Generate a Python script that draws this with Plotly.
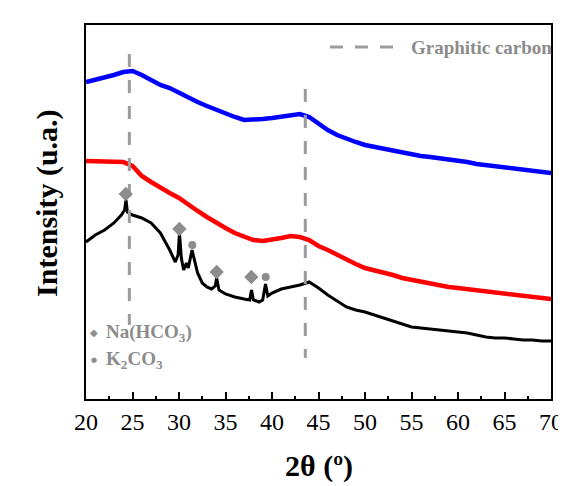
import plotly.graph_objects as go

# ---- data (intensity in arbitrary units) ----
blue_x = [20, 21, 22, 23, 24, 25, 26, 27, 28, 29, 30, 31, 32, 33, 34, 35, 36, 37, 38, 39,
          40, 41, 42, 43, 44, 45, 46, 47, 48, 49, 50, 51, 52, 53, 54, 55, 56, 57, 58, 59,
          60, 61, 62, 63, 64, 65, 66, 67, 68, 69, 70]
blue_y = [317, 319, 321, 324, 327, 328, 324, 319, 314, 311, 306, 301, 297, 293, 289, 286, 282, 279, 279, 280,
          281, 282, 284, 285, 282, 275, 269, 264, 260, 257, 254, 252, 250, 248, 246, 244, 243, 242, 241, 239,
          238, 237, 235, 234, 233, 232, 231, 230, 229, 228, 226]

red_x = blue_x
red_y = [238, 238, 237, 237, 237, 233, 223, 217, 211, 206, 201, 194, 188, 182, 176, 171, 166, 162, 159, 158,
         159, 161, 163, 162, 159, 153, 149, 144, 139, 135, 131, 129, 127, 124, 121, 119, 117, 115, 114, 112,
         111, 110, 108, 107, 106, 105, 104, 103, 102, 101, 100]

black_x = [20, 21, 22, 23, 23.8, 24.15, 24.3, 24.45, 25, 26, 27, 28, 29, 29.6, 29.9, 30.05, 30.25, 30.5,
           30.8, 31.0, 31.4, 31.7, 32, 32.5, 33, 33.5, 33.9, 34.05, 34.3, 35, 36, 37, 37.6, 37.8, 38.0,
           38.6, 39.0, 39.3, 39.55, 40, 41, 42, 43, 44, 45, 46, 47, 48, 49, 50, 51, 52, 53, 54, 55, 56,
           57, 58, 59, 60, 61, 62, 63, 64, 65, 66, 67, 68, 69, 70]
black_y = [157, 164, 169, 176, 184, 189, 199, 187, 184, 181, 176, 166, 149, 137, 144, 166, 141, 129,
           136, 131, 149, 137, 126, 116, 112, 110, 113, 121, 109, 105, 102, 100, 99, 109, 99,
           97, 99, 115, 103, 106, 110, 112, 114, 117, 111, 104, 98, 92, 89, 87, 84, 81, 78, 75, 72, 71,
           70, 69, 68, 67, 66, 64, 62, 61, 61, 60, 59, 59, 58, 58]

# phase markers
nahco3_x = [24.27, 30.04, 34.05, 37.78]
nahco3_y = [205, 170, 127, 122]
k2co3_x = [31.43, 39.32]
k2co3_y = [154, 122]

# graphitic carbon reference lines
graphite_x = [24.66, 43.58]
graphite_top = [345, 310]
graphite_bottom = [74, 41]

x_ticks = [20, 25, 30, 35, 40, 45, 50, 55, 60, 65, 70]

FONT = "Liberation Serif, Times New Roman, serif"
GRAY = "rgb(140,140,140)"
DASH_GRAY = "rgb(155,155,155)"

fig = go.Figure()

fig.add_trace(go.Scatter(x=blue_x, y=blue_y, mode="lines",
                         line=dict(color="#0000ff", width=4.5), showlegend=False))
fig.add_trace(go.Scatter(x=red_x, y=red_y, mode="lines",
                         line=dict(color="#ff0000", width=4.5), showlegend=False))
fig.add_trace(go.Scatter(x=black_x, y=black_y, mode="lines",
                         line=dict(color="#000000", width=3), showlegend=False))

for gx, gt, gb in zip(graphite_x, graphite_top, graphite_bottom):
    fig.add_trace(go.Scatter(x=[gx, gx], y=[gt, gb], mode="lines",
                             line=dict(color=DASH_GRAY, width=3, dash="13px,13px"),
                             showlegend=False))

fig.add_trace(go.Scatter(x=nahco3_x, y=nahco3_y, mode="markers",
                         marker=dict(symbol="diamond", size=11, color=GRAY), showlegend=False))
fig.add_trace(go.Scatter(x=k2co3_x, y=k2co3_y, mode="markers",
                         marker=dict(symbol="circle", size=8, color=GRAY), showlegend=False))

# legend for graphitic carbon
fig.add_shape(type="line", xref="paper", yref="paper", x0=0.5247, x1=0.6645, y0=0.941, y1=0.941,
              line=dict(color=DASH_GRAY, width=3, dash="13px,12px"))
fig.add_annotation(text="<b>Graphitic carbon</b>", xref="paper", yref="paper", x=0.6946, y=0.941,
                   xanchor="left", yanchor="middle", showarrow=False,
                   font=dict(family=FONT, size=19, color=GRAY))

# phase key
fig.add_annotation(text="◆", xref="paper", yref="paper", x=0.017, y=0.1765, xanchor="center",
                   yanchor="middle", showarrow=False, font=dict(family="DejaVu Sans", size=10, color=GRAY))
fig.add_annotation(text="<b>Na(HCO<sub>3</sub>)</b>", xref="paper", yref="paper", x=0.0387, y=0.1765,
                   xanchor="left", yanchor="middle", showarrow=False,
                   font=dict(family=FONT, size=19, color=GRAY))
fig.add_annotation(text="●", xref="paper", yref="paper", x=0.017, y=0.105, xanchor="center",
                   yanchor="middle", showarrow=False, font=dict(family="DejaVu Sans", size=7, color=GRAY))
fig.add_annotation(text="<b>K<sub>2</sub>CO<sub>3</sub></b>", xref="paper", yref="paper", x=0.0387, y=0.105,
                   xanchor="left", yanchor="middle", showarrow=False,
                   font=dict(family=FONT, size=19, color=GRAY))

# axis titles
fig.add_annotation(text="<b>Intensity (u.a.)</b>", xref="paper", yref="paper", x=-0.084, y=0.524,
                   xanchor="center", yanchor="middle", textangle=-90, showarrow=False,
                   font=dict(family=FONT, size=30, color="black"))
fig.add_annotation(text="<b>2θ (º)</b>", xref="paper", yref="paper", x=0.5, y=-0.179,
                   xanchor="center", yanchor="middle", showarrow=False,
                   font=dict(family=FONT, size=30, color="black"))

# page body has an 8px margin, so the figure is sized to fit the remaining window
fig.update_layout(
    width=558, height=478,
    margin=dict(l=78, r=15, t=17, b=87, autoexpand=False),
    paper_bgcolor="white", plot_bgcolor="white",
    showlegend=False,
)
fig.update_xaxes(range=[20, 70], tickvals=x_ticks, ticktext=[str(t) for t in x_ticks],
                 ticks="inside", ticklen=7, tickwidth=1.5, tickcolor="black",
                 minor=dict(ticks="inside", ticklen=3.5, tickwidth=1.5, tickcolor="black", dtick=2.5),
                 showline=True, linecolor="black", linewidth=2, mirror=True,
                 showgrid=False, zeroline=False, automargin=False,
                 tickfont=dict(family="Liberation Serif", size=24, color="black"))
fig.update_yaxes(range=[0, 374], showticklabels=False, ticks="",
                 showline=True, linecolor="black", linewidth=2, mirror=True,
                 showgrid=False, zeroline=False, automargin=False)

fig.write_html("out.html")
